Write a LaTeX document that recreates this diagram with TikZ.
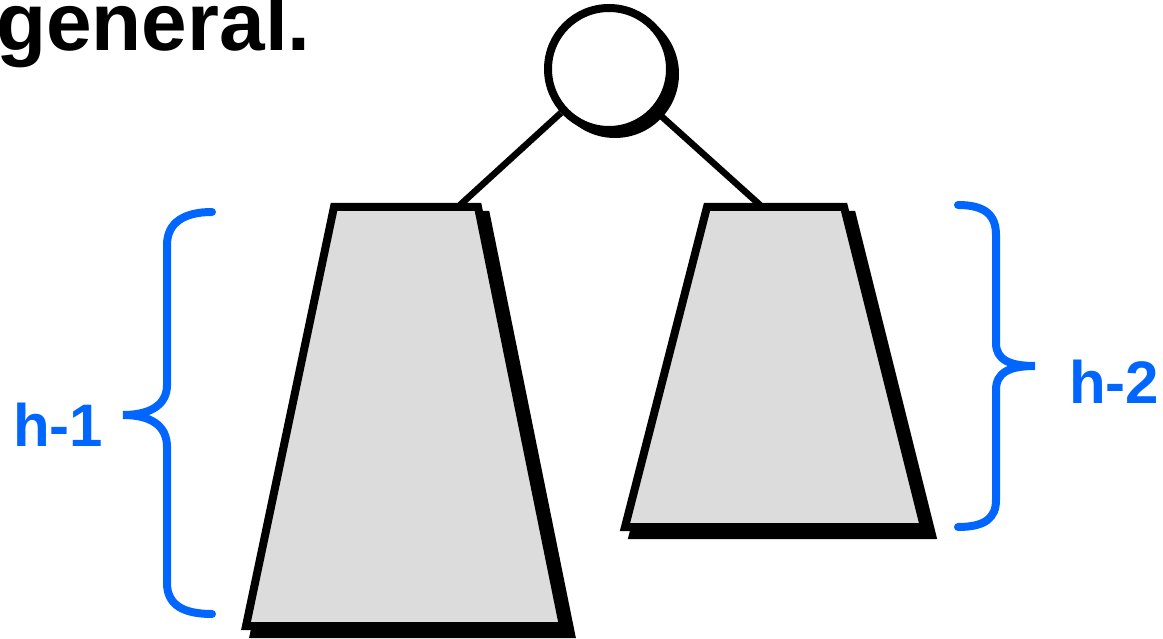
\documentclass[tikz,border=0pt]{standalone}
\usepackage{fontspec}
\setmainfont{Liberation Sans}
\definecolor{braceblue}{HTML}{0066FF}
\definecolor{treegray}{HTML}{DCDCDC}
\tikzset{
  treebox/.style={draw=black, fill=treegray, line width=8pt, line join=miter},
  treeshadow/.style={draw=black, fill=black, line width=8pt, line join=miter},
  bracepath/.style={draw=braceblue, line width=8pt, line cap=round},
  bracelabel/.style={text=braceblue, font=\bfseries\fontsize{60}{60}\selectfont, anchor=base west, inner sep=0pt},
  edgeline/.style={line width=6.5pt}
}
\begin{document}
\begin{tikzpicture}[x=1pt,y=-1pt]
\useasboundingbox (0,0) rectangle (1163,639);
% title
\node[anchor=base west, inner sep=0pt, font=\bfseries\fontsize{82}{82}\selectfont] (title) at (-4,51) {general.};
% root
\fill[black] (615,74) circle (64);
\node[circle, draw=black, fill=white, line width=8pt, minimum size=122pt, inner sep=0pt] (root) at (609,69) {};
% edge endpoints
\coordinate (lt) at (460,205);
\coordinate (rt) at (760,205);
\draw[edgeline] (root) -- (lt);
\draw[edgeline] (root) -- (rt);
% left tree
\draw[treeshadow] (342,215) -- (486,215) -- (571,634) -- (254,634) -- cycle;
\draw[treebox] (334,207) -- (478,207) -- (563,626) -- (246,626) -- cycle;
% right tree
\draw[treeshadow] (715,215) -- (852,215) -- (932,535) -- (633,535) -- cycle;
\draw[treebox] (707,207) -- (844,207) -- (924,527) -- (625,527) -- cycle;
% left brace
\coordinate (lbtop) at (212,212);
\coordinate (lbtip) at (123,415);
\coordinate (lbbot) at (212,614);
\draw[bracepath] (lbtop) .. controls (185,212) and (167,222) .. (167,245) -- (167,385) .. controls (167,405) and (150,415) .. (lbtip) .. controls (150,415) and (167,425) .. (167,447) -- (167,583) .. controls (167,606) and (185,614) .. (lbbot);
\node[bracelabel] (h1) at (13,446) {h-1};
% right brace
\coordinate (rbtop) at (958,205);
\coordinate (rbtip) at (1035,366);
\coordinate (rbbot) at (958,527);
\draw[bracepath] (rbtop) .. controls (985,205) and (996,215) .. (996,235) -- (996,343) .. controls (996,360) and (1010,366) .. (rbtip) .. controls (1010,366) and (996,372) .. (996,390) -- (996,500) .. controls (996,518) and (985,527) .. (rbbot);
\node[bracelabel] (h2) at (1069,403) {h-2};
\end{tikzpicture}
\end{document}
